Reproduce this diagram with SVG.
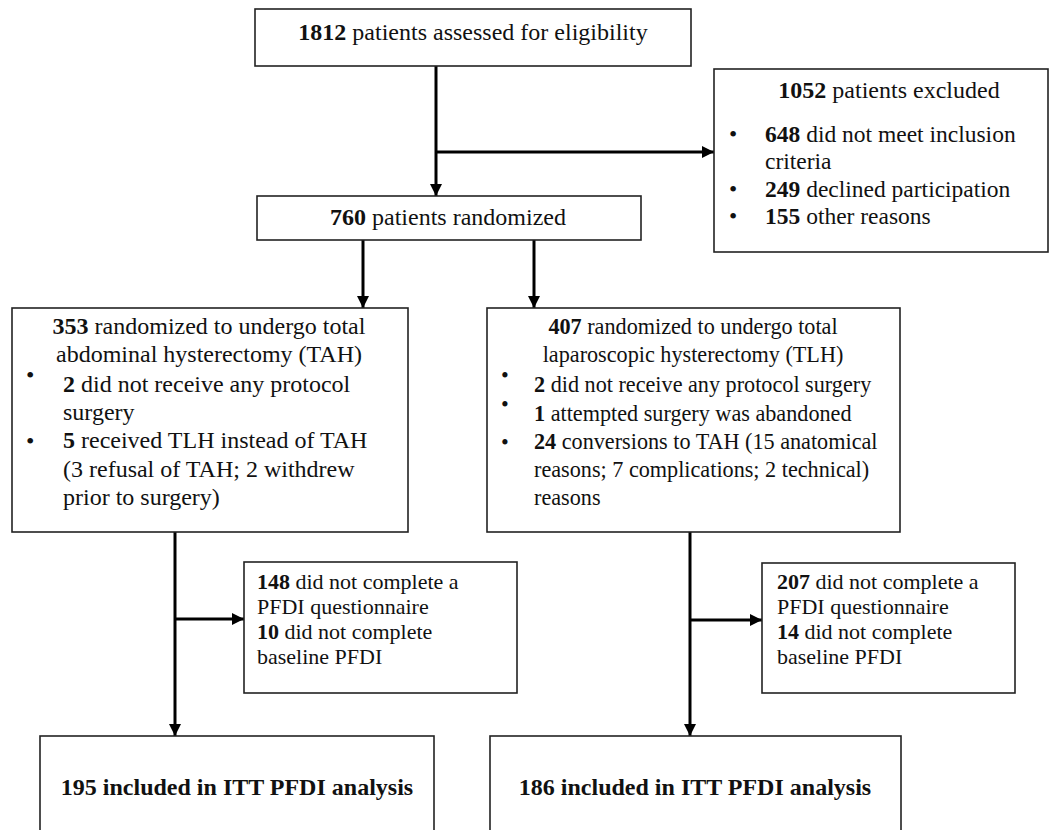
<svg xmlns="http://www.w3.org/2000/svg" width="1049" height="830" viewBox="0 0 1049 830">
<style>
  .box { fill: #fff; stroke: #222; stroke-width: 1.6; }
  .t { font-family: "Liberation Serif", "Times New Roman", serif; font-size: 24px; fill: #111; }
  .m { font-family: "Liberation Serif", "Times New Roman", serif; font-size: 23.5px; fill: #111; }
  .r { font-family: "Liberation Serif", "Times New Roman", serif; font-size: 22.2px; fill: #111; }
  .s { font-family: "Liberation Serif", "Times New Roman", serif; font-size: 22px; fill: #111; }
  .bb { font-family: "Liberation Serif", "Times New Roman", serif; font-size: 24px; font-weight: bold; fill: #111; }
  .c { text-anchor: middle; }
  .b { font-weight: bold; }
  .conn { stroke: #000; stroke-width: 3; fill: none; }
</style>
<defs>
  <marker id="arr" viewBox="0 0 10 10" refX="10" refY="5" markerWidth="4" markerHeight="4" orient="auto" markerUnits="strokeWidth">
    <path d="M0,0 L10,5 L0,10 z" fill="#000"/>
  </marker>
</defs>
<rect width="1049" height="830" fill="#fff"/>

<g id="connectors">
  <line class="conn" x1="436" y1="66" x2="436" y2="196" marker-end="url(#arr)"/>
  <line class="conn" x1="436" y1="152" x2="714" y2="152" marker-end="url(#arr)"/>
  <line class="conn" x1="363" y1="240" x2="363" y2="308" marker-end="url(#arr)"/>
  <line class="conn" x1="534" y1="240" x2="534" y2="308" marker-end="url(#arr)"/>
  <line class="conn" x1="175" y1="532" x2="175" y2="736" marker-end="url(#arr)"/>
  <line class="conn" x1="175" y1="619" x2="244" y2="619" marker-end="url(#arr)"/>
  <line class="conn" x1="690" y1="532" x2="690" y2="736" marker-end="url(#arr)"/>
  <line class="conn" x1="690" y1="620" x2="762" y2="620" marker-end="url(#arr)"/>
</g>

<g id="assessed">
  <rect class="box" x="255" y="9" width="436" height="57"/>
  <text class="t c" x="473" y="40"><tspan class="b">1812</tspan> patients assessed for eligibility</text>
</g>

<g id="excluded">
  <rect class="box" x="714" y="69" width="334" height="183"/>
  <text class="t c" x="889" y="98"><tspan class="b">1052</tspan> patients excluded</text>
  <text class="m" x="729" y="142">•</text>
  <text class="m" x="765" y="142"><tspan class="b">648</tspan> did not meet inclusion</text>
  <text class="m" x="765" y="169">criteria</text>
  <text class="m" x="729" y="197">•</text>
  <text class="m" x="765" y="197"><tspan class="b">249</tspan> declined participation</text>
  <text class="m" x="729" y="224">•</text>
  <text class="m" x="765" y="224"><tspan class="b">155</tspan> other reasons</text>
</g>

<g id="randomized">
  <rect class="box" x="257" y="196" width="384" height="44"/>
  <text class="t c" x="448" y="225"><tspan class="b">760</tspan> patients randomized</text>
</g>

<g id="tah">
  <rect class="box" x="12" y="308" width="396" height="224"/>
  <text class="t c" x="209" y="334"><tspan class="b">353</tspan> randomized to undergo total</text>
  <text class="t c" x="209" y="362">abdominal hysterectomy (TAH)</text>
  <text class="t" x="26" y="383" font-size="18">•</text>
  <text class="t" x="63" y="392"><tspan class="b">2</tspan> did not receive any protocol</text>
  <text class="t" x="63" y="420">surgery</text>
  <text class="t" x="26" y="449">•</text>
  <text class="t" x="63" y="448"><tspan class="b">5</tspan> received TLH instead of TAH</text>
  <text class="t" x="63" y="477">(3 refusal of TAH; 2 withdrew</text>
  <text class="t" x="63" y="505">prior to surgery)</text>
</g>

<g id="tlh">
  <rect class="box" x="487" y="308" width="413" height="224"/>
  <text class="r c" x="693" y="334"><tspan class="b">407</tspan> randomized to undergo total</text>
  <text class="r c" x="693" y="362">laparoscopic hysterectomy (TLH)</text>
  <text class="r" x="501" y="383" font-size="18">•</text>
  <text class="r" x="534" y="392"><tspan class="b">2</tspan> did not receive any protocol surgery</text>
  <text class="r" x="501" y="412" font-size="18">•</text>
  <text class="r" x="534" y="421"><tspan class="b">1</tspan> attempted surgery was abandoned</text>
  <text class="r" x="501" y="450">•</text>
  <text class="r" x="534" y="449"><tspan class="b">24</tspan> conversions to TAH (15 anatomical</text>
  <text class="r" x="534" y="477">reasons; 7 complications; 2 technical)</text>
  <text class="r" x="534" y="505">reasons</text>
</g>

<g id="pfdi-left">
  <rect class="box" x="244" y="562" width="273" height="131"/>
  <text class="s" x="257" y="589"><tspan class="b">148</tspan> did not complete a</text>
  <text class="s" x="257" y="614">PFDI questionnaire</text>
  <text class="s" x="257" y="639"><tspan class="b">10</tspan> did not complete</text>
  <text class="s" x="257" y="664">baseline PFDI</text>
</g>

<g id="pfdi-right">
  <rect class="box" x="762" y="563" width="253" height="130"/>
  <text class="s" x="777" y="589"><tspan class="b">207</tspan> did not complete a</text>
  <text class="s" x="777" y="614">PFDI questionnaire</text>
  <text class="s" x="777" y="639"><tspan class="b">14</tspan> did not complete</text>
  <text class="s" x="777" y="664">baseline PFDI</text>
</g>

<g id="itt-left">
  <rect class="box" x="40" y="736" width="394" height="110"/>
  <text class="bb c" x="237" y="795">195 included in ITT PFDI analysis</text>
</g>

<g id="itt-right">
  <rect class="box" x="490" y="736" width="411" height="110"/>
  <text class="bb c" x="695" y="795">186 included in ITT PFDI analysis</text>
</g>
</svg>
